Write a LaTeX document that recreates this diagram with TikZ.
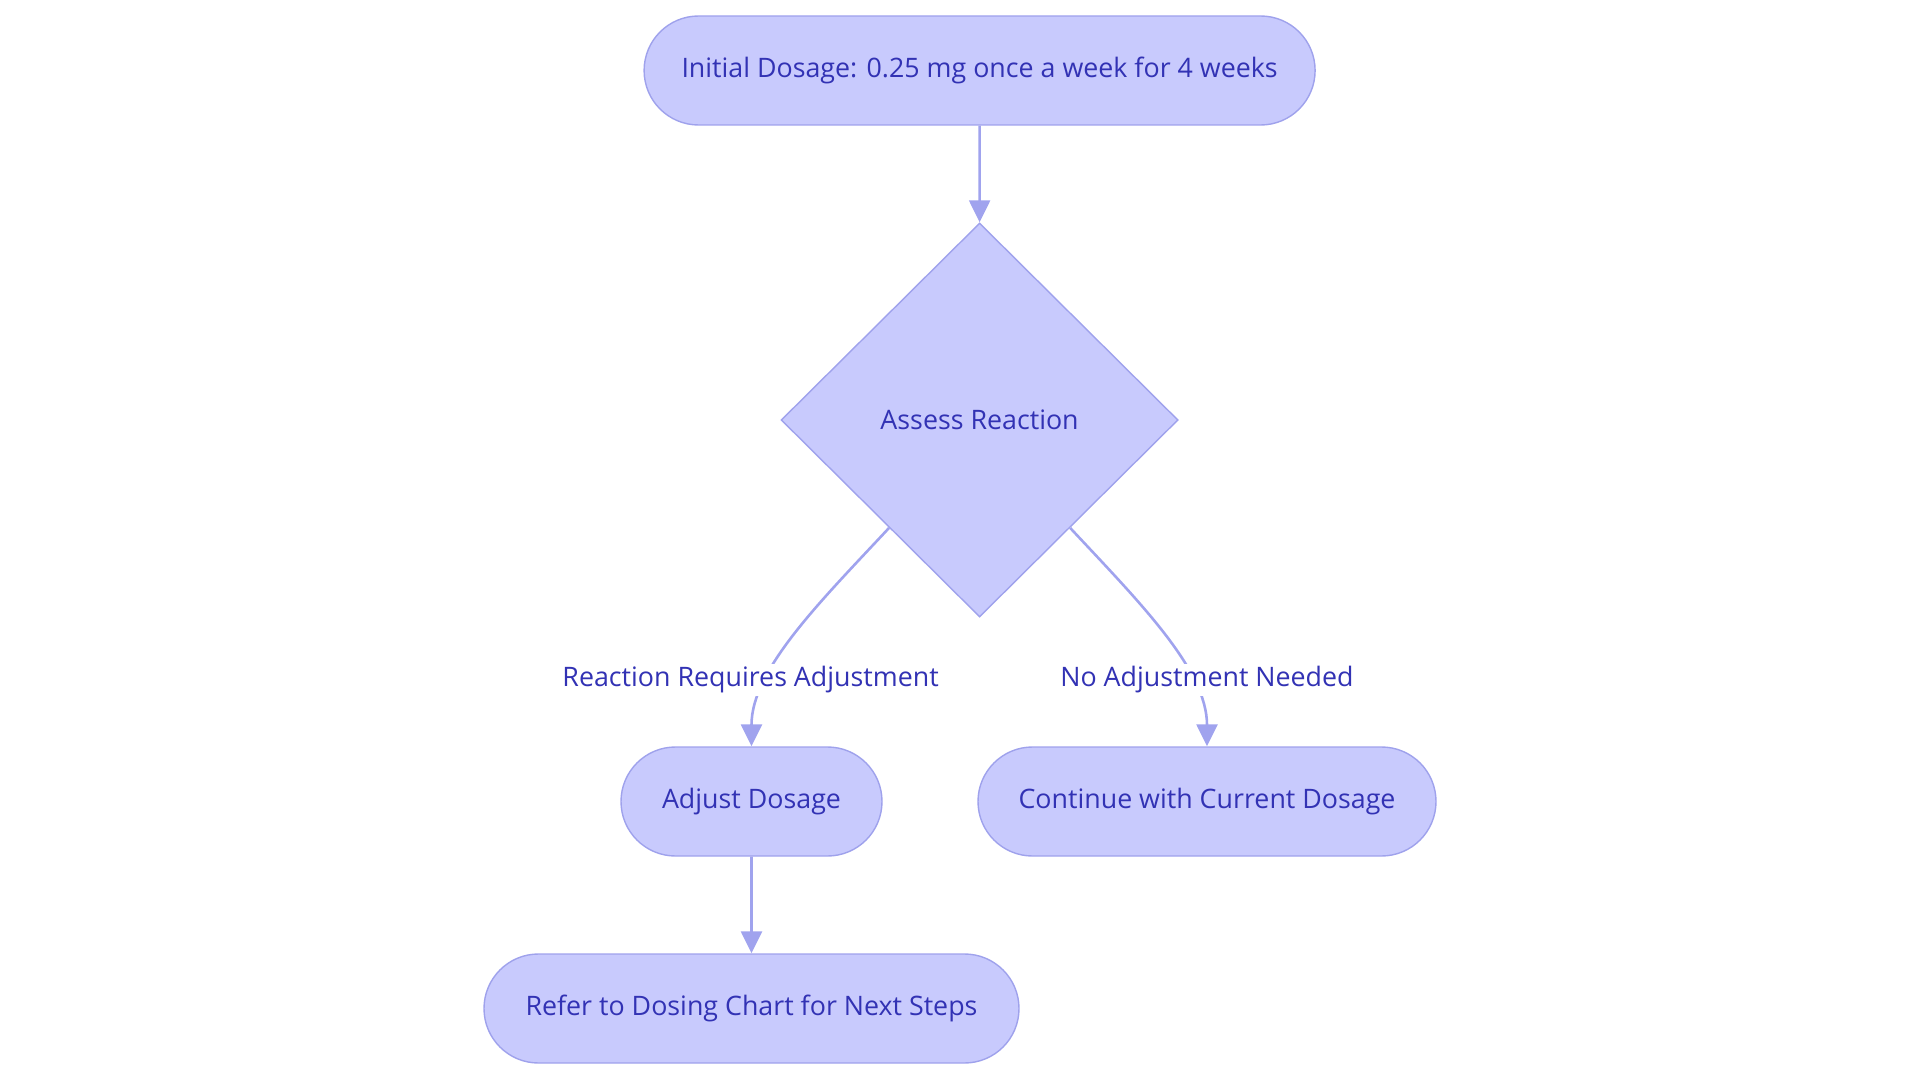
\documentclass[tikz,border=0pt]{standalone}
\usepackage{fontspec}
\setmainfont{Open Sans}
\usetikzlibrary{arrows.meta,shapes.geometric,shapes.misc}
\definecolor{boxfill}{HTML}{C8CAFD}
\definecolor{boxline}{HTML}{9FA2EC}
\definecolor{boxtext}{HTML}{3232B4}
\definecolor{edgeline}{HTML}{A0A3EE}

\begin{document}
\begin{tikzpicture}[x=1pt,y=-1pt,
    pill/.style={rounded rectangle,draw=boxline,fill=boxfill,line width=1.4pt,
      text=boxtext,minimum height=109pt,inner sep=0pt,font=\fontsize{26.8}{32}\selectfont},
    decision/.style={diamond,draw=boxline,fill=boxfill,line width=1.4pt,text=boxtext,
      minimum width=397pt,minimum height=394pt,inner sep=0pt,font=\fontsize{26.8}{32}\selectfont},
    flow/.style={draw=edgeline,line width=2.6pt,-{Triangle[length=22pt,width=21pt]}},
    lbl/.style={fill=white,text=boxtext,inner sep=3pt,font=\fontsize{26.8}{32}\selectfont}]
  \useasboundingbox (0,0) rectangle (1920,1083);
  \node[pill,minimum width=671pt] (start) at (979.6,70.5) {Initial Dosage: 0.25 mg once a week for 4 weeks};
  \node[decision] (assess) at (979.6,420) {Assess Reaction};
  \node[pill,minimum width=261pt] (adjust) at (751.5,801.5) {Adjust Dosage};
  \node[pill,minimum width=458pt] (keep) at (1207,801.5) {Continue with Current Dosage};
  \node[pill,minimum width=535pt] (chart) at (751.5,1008.5) {Refer to Dosing Chart for Next Steps};
  \draw[flow] (start) -- (assess);
  \draw[flow] (assess.-130) .. controls +(-68,73) and +(0,-77) .. (adjust.north);
  \draw[flow] (assess.-50) .. controls +(68,73) and +(0,-77) .. (keep.north);
  \draw[flow] (adjust) -- (chart);
  \node[lbl] (needadj) at (750.6,680) {Reaction Requires Adjustment};
  \node[lbl] (noadj) at (1207,680) {No Adjustment Needed};
\end{tikzpicture}
\end{document}
